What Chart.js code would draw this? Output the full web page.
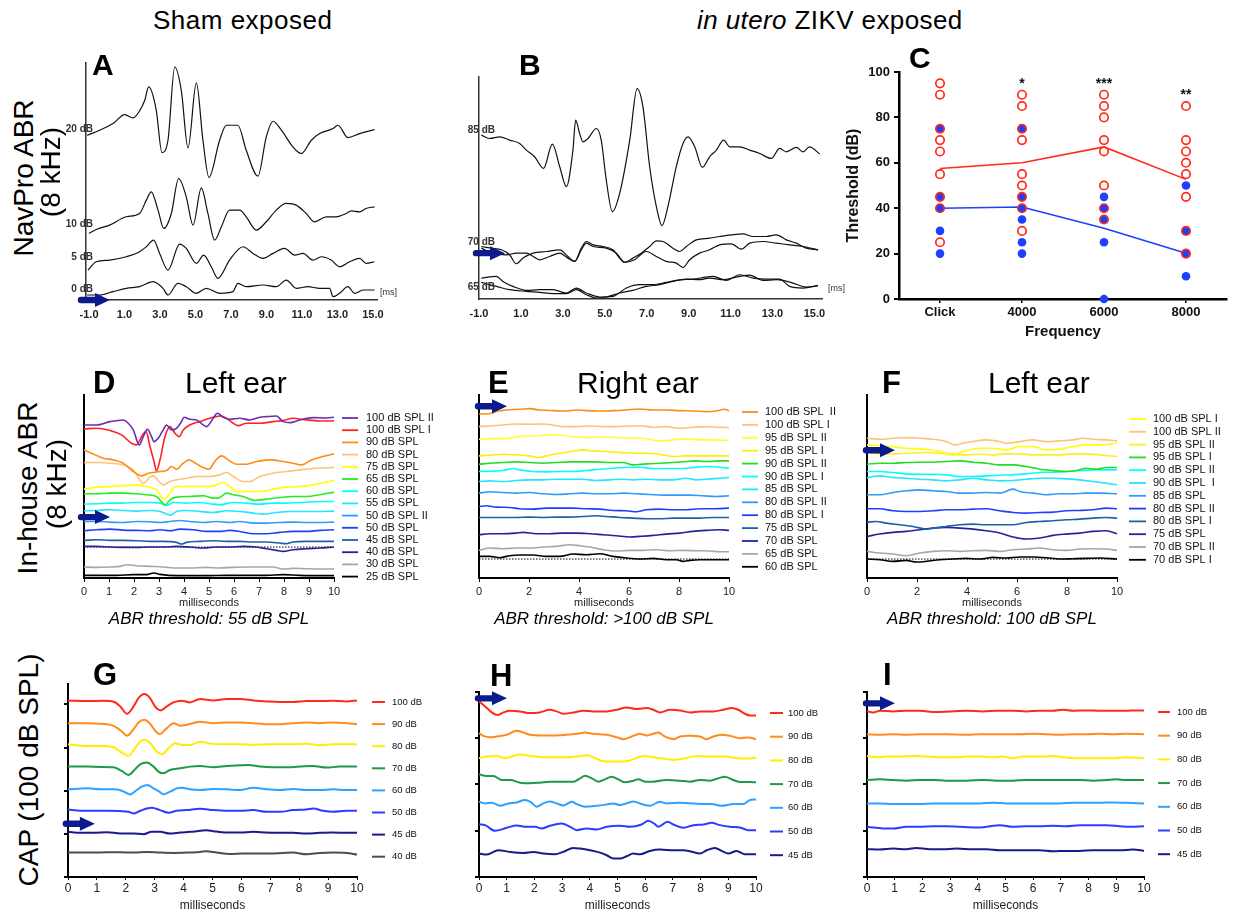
<!DOCTYPE html>
<html>
<head>
<meta charset="utf-8">
<script src="https://cdn.jsdelivr.net/npm/chart.js@4.4.1/dist/chart.umd.min.js"></script>
<style>
  body { margin: 0; background: #fff; width: 1235px; height: 913px; position: relative; overflow: hidden; font-family: "Liberation Sans", Arial, sans-serif; color: #000; }
  canvas { position: absolute; }
  .t { position: absolute; white-space: nowrap; line-height: 1; }
  .b { font-weight: bold; }
  .rot { position: absolute; white-space: nowrap; line-height: 1; text-align: center; transform: rotate(-90deg); }
  .cap { position: absolute; width: 320px; text-align: center; font-style: italic; font-size: 17px; line-height: 1; }
</style>
</head>
<body>
<canvas id="cA" width="340" height="270" style="left:60px;top:55px"></canvas>
<canvas id="cB" width="400" height="259" style="left:455px;top:65px"></canvas>
<canvas id="cC" width="395" height="285" style="left:840px;top:60px"></canvas>
<canvas id="cD" width="380" height="234" style="left:60px;top:380px"></canvas>
<canvas id="cE" width="390" height="234" style="left:455px;top:380px"></canvas>
<canvas id="cF" width="390" height="234" style="left:845px;top:380px"></canvas>
<canvas id="cG" width="390" height="243" style="left:50px;top:670px"></canvas>
<canvas id="cH" width="390" height="243" style="left:455px;top:670px"></canvas>
<canvas id="cI" width="390" height="243" style="left:845px;top:670px"></canvas>

<div class="t" style="left:153px;top:7px;font-size:26px;letter-spacing:.5px">Sham exposed</div>
<div class="t" style="left:697px;top:7px;font-size:26px;letter-spacing:.4px"><i>in utero</i> ZIKV exposed</div>

<div class="t b" style="left:92px;top:50px;font-size:30px">A</div>
<div class="t b" style="left:519px;top:50px;font-size:30px">B</div>
<div class="t b" style="left:909px;top:43px;font-size:30px">C</div>
<div class="t b" style="left:93px;top:367px;font-size:31px">D</div>
<div class="t b" style="left:488px;top:367px;font-size:31px">E</div>
<div class="t b" style="left:882px;top:367px;font-size:31px">F</div>
<div class="t b" style="left:93px;top:659px;font-size:31px">G</div>
<div class="t b" style="left:490px;top:660px;font-size:31px">H</div>
<div class="t b" style="left:883px;top:659px;font-size:31px">I</div>

<div class="t" style="left:185px;top:368px;font-size:30px">Left ear</div>
<div class="t" style="left:577px;top:368px;font-size:30px">Right ear</div>
<div class="t" style="left:988px;top:368px;font-size:30px">Left ear</div>

<div class="cap" style="left:49px;top:610px">ABR threshold: 55 dB SPL</div>
<div class="cap" style="left:444px;top:610px">ABR threshold: &gt;100 dB SPL</div>
<div class="cap" style="left:832px;top:610px">ABR threshold: 100 dB SPL</div>

<div class="rot" style="width:240px;left:-96px;top:164px;font-size:28px">NavPro ABR</div>
<div class="rot" style="width:240px;left:-69px;top:158px;font-size:28px">(8 kHz)</div>
<div class="rot" style="width:240px;left:-92px;top:474px;font-size:28px">In-house ABR</div>
<div class="rot" style="width:240px;left:-63px;top:470px;font-size:28px">(8 kHz)</div>
<div class="rot" style="width:300px;left:-121px;top:756px;font-size:28px">CAP (100 dB SPL)</div>

<script>
// ---- A : NavPro ABR, sham (time ms, amplitude a.u.)
const a20 = [[-1.11,495],[-0.4,510],[0.35,530],[1.01,557],[1.48,547],[1.85,568],[2.14,600],[2.36,640],[2.79,570],[3.11,443],[3.45,480],[3.83,700],[4.2,630],[4.58,457],[5.05,652],[5.42,480],[5.76,368],[6.36,480],[6.74,525],[7.39,525],[7.86,450],[8.52,372],[8.99,490],[9.37,537],[9.84,510],[10.49,460],[10.96,440],[11.53,480],[12.0,500],[12.75,515],[13.03,525],[13.59,488],[14.25,500],[15.09,512]];
const a10 = [[-1,200],[-0.59,212],[0.16,225],[1.1,250],[1.85,260],[2.23,300],[2.51,325],[2.89,270],[3.21,215],[3.64,260],[4.05,365],[4.48,310],[4.86,225],[5.33,337],[5.7,260],[6.08,180],[6.46,220],[6.92,270],[7.49,270],[7.86,250],[8.43,210],[8.99,235],[9.55,270],[10.12,290],[10.68,285],[11.24,260],[11.71,235],[12.37,250],[12.93,250],[13.5,260],[13.78,268],[14.25,265],[14.62,275],[15.09,280]];
const a5 = [[-1.06,90],[-0.59,115],[0.16,120],[1.1,130],[1.85,145],[2.23,160],[2.64,180],[2.98,140],[3.45,90],[4.11,168],[4.48,155],[5.05,110],[5.46,135],[5.89,100],[6.27,65],[6.92,120],[7.68,160],[8.24,140],[8.8,125],[9.37,140],[10.02,155],[10.59,135],[11.06,140],[11.62,120],[12.09,130],[12.65,120],[13.12,100],[13.69,115],[14.25,125],[14.62,110],[15.09,115]];
const a0 = [[-1.11,15],[-0.4,15],[0.35,25],[1.1,35],[1.85,40],[2.61,55],[3.17,35],[3.45,15],[4.01,50],[4.48,40],[5.05,20],[5.61,35],[6.36,20],[7.11,25],[7.39,50],[7.86,40],[8.8,45],[9.55,40],[10.12,60],[10.68,35],[11.34,40],[12.0,35],[12.56,35],[12.75,10],[13.12,20],[13.59,40],[13.97,20],[14.44,30],[15.09,30]];
const tagsA = [['20 dB', 513], ['10 dB', 228], ['5 dB', 129], ['0 dB', 33]];

// ---- B : NavPro ABR, in utero ZIKV
const b85 = [[-0.89,493],[-0.49,483],[-0.01,488],[0.46,478],[0.94,468],[1.26,448],[1.65,428],[2.08,393],[2.5,466],[2.85,398],[3.17,338],[3.48,448],[3.61,538],[3.8,498],[3.96,473],[4.2,483],[4.6,513],[4.83,478],[5.07,358],[5.36,263],[5.71,318],[6.19,478],[6.54,633],[6.82,578],[7.14,398],[7.46,278],[7.73,221],[8.01,278],[8.41,398],[8.73,468],[8.97,488],[9.29,458],[9.65,396],[10.0,428],[10.32,448],[10.67,478],[10.96,458],[11.43,458],[11.91,448],[12.39,438],[12.94,423],[13.34,453],[13.66,443],[14.14,456],[14.45,443],[14.77,458],[15.25,436]];
const b70a = [[-0.89,158],[-0.41,153],[0.07,148],[0.46,133],[0.78,106],[1.1,123],[1.58,138],[2.21,143],[2.85,148],[3.24,128],[3.56,113],[3.88,153],[4.12,173],[4.44,163],[4.91,158],[5.39,148],[5.71,123],[5.95,110],[6.34,123],[6.74,138],[7.14,158],[7.46,175],[7.78,173],[8.25,153],[8.57,143],[8.89,158],[9.37,178],[10.0,183],[10.48,188],[11.04,193],[11.59,196],[12.07,188],[12.7,188],[13.18,193],[13.66,178],[14.14,168],[14.61,153],[15.17,148]];
const b70b = [[-0.89,153],[-0.33,138],[0.3,133],[0.78,138],[1.26,138],[1.58,128],[1.89,118],[2.37,128],[2.85,138],[3.24,123],[3.56,113],[3.88,148],[4.12,168],[4.44,158],[5.07,153],[5.55,138],[5.95,110],[6.42,118],[6.98,143],[7.46,128],[7.93,113],[8.41,108],[8.73,95],[9.05,118],[9.52,138],[10.0,148],[10.48,163],[11.04,166],[11.51,150],[11.91,168],[12.55,173],[13.18,168],[13.82,163],[14.45,158],[15.17,148]];
const b65a = [[-0.89,63],[-0.17,68],[0.14,53],[0.62,38],[1.26,26],[1.89,28],[2.53,28],[3.17,18],[3.64,33],[4.12,18],[4.76,6],[5.39,8],[6.03,33],[6.66,43],[7.3,43],[7.93,50],[8.57,58],[9.21,60],[9.84,66],[10.16,68],[10.8,56],[11.43,73],[12.07,63],[12.7,60],[13.34,60],[13.82,38],[14.45,33],[15.17,40]];
const b65b = [[-0.89,50],[-0.17,38],[0.46,28],[1.26,23],[1.89,20],[2.53,16],[3.17,16],[3.64,28],[4.12,13],[4.6,3],[5.07,6],[5.71,18],[6.34,26],[6.98,38],[7.62,43],[8.25,53],[8.89,60],[9.52,58],[10.0,63],[10.64,58],[11.27,66],[11.91,72],[12.55,56],[13.18,58],[13.5,56],[13.98,48],[14.61,36],[15.17,40]];
const tagsB = [['85 dB', 507], ['70 dB', 171], ['65 dB', 36]];
const abrTicks = [-1, 1, 3, 5, 7, 9, 11, 13, 15];

// ---- C : thresholds (dB)
const catsC = ['Click', '4000', '6000', '8000'];
const shamC = [[75, 45, 40, 30, 20], [75, 45, 40, 35, 25, 20], [45, 40, 35, 25, 0], [50, 30, 20, 10]];
const zikvC = [[95, 90, 75, 70, 65, 55, 45, 40, 25], [90, 85, 75, 70, 55, 50, 45, 40, 30], [90, 85, 80, 70, 65, 50, 40, 35], [85, 70, 65, 60, 55, 45, 30, 20]];
const shamMean = [40, 40.5, 31.2, 20.2];
const zikvMean = [57.5, 60, 67, 52.7];
const starsC = ['', '*', '***', '**'];

// ---- D : in-house ABR, sham, left ear
const d100II = [[0,460],[0.5,460],[1.04,470],[1.57,475],[1.77,465],[1.97,445],[2.21,400],[2.37,425],[2.54,447],[2.7,425],[2.8,410],[2.97,420],[3.17,445],[3.3,460],[3.5,445],[3.7,450],[3.9,470],[4.0,483],[4.23,477],[4.5,475],[4.77,460],[4.9,455],[5.17,480],[5.33,495],[5.57,483],[5.83,477],[6.23,480],[6.63,475],[7.03,483],[7.3,485],[7.7,487],[7.96,470],[8.23,467],[8.63,475],[9.16,482],[9.69,481],[10,483]];
const d100I = [[0,448],[0.5,450],[1.04,443],[1.5,430],[1.9,405],[2.1,400],[2.34,430],[2.48,440],[2.64,395],[2.8,350],[2.9,322],[3.04,355],[3.24,425],[3.44,455],[3.64,435],[3.81,425],[3.97,445],[4.23,460],[4.63,470],[5.03,480],[5.43,487],[5.7,480],[5.97,465],[6.17,458],[6.5,465],[7.03,465],[7.56,470],[7.96,473],[8.36,480],[8.89,475],[9.43,472],[10,472]];
const d90 = [[0,385],[0.37,373],[0.77,360],[1.17,355],[1.57,345],[1.97,320],[2.3,307],[2.57,315],[2.77,317],[3.04,320],[3.3,323],[3.5,335],[3.7,327],[3.97,345],[4.2,355],[4.5,343],[4.77,332],[5.0,327],[5.23,350],[5.5,367],[5.77,355],[6.1,342],[6.5,342],[6.9,350],[7.43,355],[7.96,350],[8.36,345],[8.7,340],[9.1,355],[9.56,365],[10,373]];
const d80 = [[0,347],[0.5,347],[1.04,345],[1.57,340],[1.97,325],[2.37,285],[2.64,303],[2.77,307],[3.0,290],[3.17,280],[3.44,290],[3.7,295],[4.1,300],[4.5,305],[5.03,305],[5.43,310],[5.7,317],[5.97,305],[6.36,290],[6.63,290],[7.03,305],[7.56,315],[8.1,320],[8.63,325],[9.29,330],[10,332]];
const d75 = [[0,267],[0.5,273],[1.04,275],[1.57,277],[2.1,280],[2.5,275],[2.9,265],[3.2,238],[3.44,255],[3.64,275],[4.1,275],[4.63,275],[5.17,277],[5.57,287],[5.83,275],[6.1,260],[6.5,260],[7.03,260],[7.56,267],[8.1,273],[8.63,275],[9.16,280],[10,293]];
const d65 = [[0,253],[0.5,253],[1.04,255],[1.57,255],[2.1,253],[2.5,250],[2.9,245],[3.26,220],[3.44,235],[3.7,243],[4.23,245],[4.77,247],[5.17,240],[5.37,240],[5.7,255],[5.97,250],[6.36,245],[6.83,233],[7.3,237],[7.83,242],[8.36,245],[8.89,245],[9.43,250],[10,258]];
const d60 = [[0,222],[0.5,223],[1.04,225],[1.57,225],[2.1,227],[2.64,227],[3.04,225],[3.3,218],[3.57,227],[4.1,225],[4.63,227],[5.17,222],[5.43,220],[5.97,227],[6.5,225],[7.03,222],[7.56,225],[8.1,225],[8.63,227],[9.29,229],[10,230]];
const d55 = [[0,202],[0.5,203],[1.04,205],[1.57,203],[2.1,201],[2.64,203],[3.04,200],[3.46,189],[3.7,200],[4.1,203],[4.63,200],[5.17,197],[5.7,202],[6.23,200],[6.77,195],[7.17,192],[7.7,197],[8.23,200],[8.76,200],[9.29,200],[10,201]];
const d50II = [[0,170],[0.5,170],[1.04,168],[1.57,167],[2.1,170],[2.64,169],[3.04,167],[3.44,170],[3.84,173],[4.23,170],[4.77,167],[5.3,170],[5.83,167],[6.23,170],[6.77,165],[7.3,165],[7.83,167],[8.36,168],[8.89,167],[9.43,167],[10,168]];
const d50 = [[0,142],[0.5,145],[1.04,147],[1.57,144],[2.1,143],[2.64,142],[3.04,145],[3.44,142],[3.84,147],[4.37,145],[4.9,140],[5.43,140],[5.83,143],[6.23,140],[6.77,133],[7.3,133],[7.83,137],[8.36,140],[8.89,140],[9.43,143],[10,145]];
const d45 = [[0,113],[0.5,115],[1.04,113],[1.57,113],[2.1,112],[2.64,110],[3.17,110],[3.7,107],[3.9,102],[4.1,107],[4.63,110],[5.17,112],[5.7,110],[6.23,110],[6.77,108],[7.3,108],[7.83,105],[8.1,103],[8.36,108],[8.89,110],[9.43,110],[10,110]];
const d40 = [[0,95],[0.5,95],[1.04,93],[1.57,92],[2.1,92],[2.64,93],[3.17,93],[3.7,95],[4.23,93],[4.77,90],[5.3,93],[5.83,93],[6.36,95],[6.9,93],[7.3,88],[7.7,83],[7.96,80],[8.36,85],[8.89,88],[9.43,90],[10,93]];
const d30 = [[0,33],[0.5,32],[1.04,33],[1.44,35],[1.71,40],[2.1,37],[2.64,35],[3.17,33],[3.7,30],[4.23,30],[4.9,32],[5.43,30],[5.97,32],[6.5,33],[7.03,33],[7.56,33],[7.96,27],[8.36,29],[8.89,28],[9.43,27],[10,27]];
const d25 = [[0,8],[0.64,8],[1.3,8],[1.97,10],[2.5,10],[2.8,15],[3.04,11],[3.7,7],[4.1,7],[4.9,7],[5.7,8],[6.5,8],[7.3,8],[7.96,10],[8.63,8],[9.43,7],[10,7]];
const refD = 93;
const legendD = ['100 dB SPL II', '100 dB SPL I', '90 dB SPL', '80 dB SPL', '75 dB SPL', '65 dB SPL', '60 dB SPL', '55 dB SPL', '50 dB SPL II', '50 dB SPL', '45 dB SPL', '40 dB SPL', '30 dB SPL', '25 dB SPL'];

// ---- E : in-house ABR, ZIKV, right ear
const e100II = [[0,493],[0.29,493],[0.49,495],[0.76,502],[1.09,505],[1.63,507],[2.03,509],[2.43,505],[2.96,503],[3.49,502],[3.89,505],[4.29,503],[4.83,502],[5.36,503],[5.89,505],[6.43,508],[6.96,505],[7.49,505],[8.03,503],[8.56,502],[9.09,500],[9.49,502],[9.83,507],[10,502]];
const e100I = [[0,455],[0.43,457],[0.96,460],[1.49,463],[2.03,462],[2.56,463],[2.96,460],[3.36,455],[3.89,455],[4.43,457],[4.96,455],[5.49,455],[6.03,457],[6.56,457],[6.96,453],[7.49,455],[8.03,450],[8.56,453],[9.09,455],[9.63,453],[10,452]];
const e95II = [[0,417],[0.43,419],[0.96,419],[1.49,423],[1.76,427],[2.29,427],[2.83,431],[3.23,429],[3.76,425],[4.29,422],[4.83,423],[5.36,423],[5.89,420],[6.43,420],[6.96,415],[7.23,412],[7.76,415],[8.29,418],[8.83,415],[9.36,415],[10,413]];
const e95I = [[0,367],[0.43,369],[0.96,372],[1.49,370],[2.03,367],[2.43,362],[2.69,367],[3.23,375],[3.76,381],[4.16,385],[4.56,382],[5.09,380],[5.63,377],[6.16,375],[6.69,375],[7.23,372],[7.76,365],[8.29,367],[8.83,367],[9.36,367],[10,367]];
const e90II = [[0,342],[0.43,345],[0.96,347],[1.49,349],[2.03,347],[2.56,345],[3.09,347],[3.63,349],[4.16,349],[4.69,349],[5.23,347],[5.76,347],[6.16,340],[6.69,343],[7.23,345],[7.76,347],[8.29,350],[8.69,352],[9.09,350],[9.63,352],[10,352]];
const e90I = [[0,320],[0.43,321],[0.96,323],[1.36,329],[1.63,325],[2.16,320],[2.69,319],[3.23,320],[3.76,320],[4.29,323],[4.83,327],[5.36,330],[5.89,332],[6.43,333],[6.96,329],[7.49,329],[8.03,329],[8.56,332],[9.09,335],[9.63,333],[10,330]];
const e85 = [[0,290],[0.43,292],[0.96,290],[1.49,293],[2.03,295],[2.56,295],[3.09,297],[3.63,297],[4.16,297],[4.69,293],[5.23,295],[5.76,297],[6.16,295],[6.69,297],[7.23,295],[7.76,295],[8.29,300],[8.69,295],[9.09,297],[9.63,300],[10,302]];
const e80II = [[0,255],[0.43,259],[0.96,257],[1.49,255],[2.03,257],[2.56,253],[3.09,251],[3.63,253],[4.16,255],[4.69,253],[5.23,253],[5.76,255],[6.29,253],[6.83,251],[7.36,249],[7.89,249],[8.43,249],[8.96,247],[9.49,245],[10,247]];
const e80I = [[0,215],[0.29,217],[0.69,213],[1.23,212],[1.63,208],[2.16,207],[2.69,210],[3.23,210],[3.76,210],[4.29,208],[4.83,207],[5.36,203],[5.89,202],[6.29,199],[6.69,205],[7.23,207],[7.76,205],[8.29,205],[8.83,208],[9.36,208],[10,210]];
const e75 = [[0,182],[0.43,182],[0.96,182],[1.49,182],[2.03,183],[2.56,182],[3.09,183],[3.63,183],[4.16,185],[4.69,187],[5.09,185],[5.63,182],[6.16,180],[6.69,178],[7.23,178],[7.76,180],[8.29,180],[8.83,180],[9.36,182],[10,182]];
const e70 = [[0,130],[0.43,133],[0.96,133],[1.49,135],[1.76,137],[2.29,133],[2.83,133],[3.36,135],[3.89,135],[4.43,133],[4.96,130],[5.49,127],[6.03,123],[6.43,125],[6.96,128],[7.49,132],[8.03,135],[8.56,140],[9.09,143],[9.63,145],[10,143]];
const e65 = [[0,83],[0.43,90],[0.96,88],[1.49,90],[2.03,90],[2.56,93],[3.09,95],[3.63,100],[4.03,97],[4.43,93],[4.96,85],[5.49,81],[6.03,83],[6.56,83],[7.09,85],[7.63,82],[8.16,83],[8.69,82],[9.23,81],[9.63,79],[10,79]];
const e60 = [[0,65],[0.43,65],[0.83,61],[1.23,67],[1.63,69],[2.16,69],[2.69,65],[3.23,65],[3.76,72],[4.29,70],[4.83,73],[5.36,65],[5.89,60],[6.43,57],[6.96,59],[7.49,55],[7.89,55],[8.16,50],[8.43,53],[8.83,55],[9.36,55],[10,55]];
const refE = 57;
const legendE = ['100 dB SPL  II', '100 dB SPL I', '95 dB SPL II', '95 dB SPL I', '90 dB SPL II', '90 dB SPL I', '85 dB SPL', '80 dB SPL II', '80 dB SPL I', '75 dB SPL', '70 dB SPL', '65 dB SPL', '60 dB SPL'];

// ---- F : in-house ABR, ZIKV, left ear
const f100I = [[0,400],[0.91,395],[1.57,390],[2.37,387],[2.91,380],[3.44,370],[3.97,383],[4.51,390],[5.04,390],[5.57,385],[6.11,395],[6.64,395],[7.17,385],[7.71,387],[8.24,395],[8.77,400],[9.31,400],[10,405]];
const f100II = [[0,420],[0.51,417],[1.04,420],[1.57,422],[2.11,420],[2.64,417],[3.17,410],[3.51,400],[3.84,405],[4.24,410],[4.77,415],[5.31,410],[5.57,405],[6.11,410],[6.64,415],[7.17,410],[7.71,412],[8.24,415],[8.64,420],[9.04,417],[9.57,415],[10,412]];
const f95II = [[0,377],[0.64,373],[1.17,373],[1.71,375],[2.24,377],[2.91,375],[3.44,373],[3.97,370],[4.51,372],[5.04,370],[5.57,373],[6.11,373],[6.64,370],[7.17,370],[7.71,370],[8.24,373],[8.77,373],[9.31,370],[10,365]];
const f95I = [[0,342],[0.51,345],[1.04,345],[1.57,347],[2.11,348],[2.64,348],[3.17,350],[3.71,352],[4.24,348],[4.77,345],[5.31,340],[5.84,340],[6.37,335],[6.91,327],[7.44,323],[7.97,320],[8.37,323],[8.77,330],[9.17,327],[9.57,332],[10,332]];
const f90II = [[0,320],[0.51,320],[1.04,317],[1.57,313],[2.11,312],[2.64,312],[3.17,310],[3.71,305],[4.24,305],[4.77,307],[5.31,309],[5.84,310],[6.37,313],[6.91,317],[7.44,318],[7.97,320],[8.51,323],[9.04,325],[9.57,325],[10,325]];
const f90I = [[0,300],[0.24,305],[0.51,307],[1.04,302],[1.57,300],[2.11,297],[2.64,295],[3.17,292],[3.71,295],[4.24,300],[4.77,295],[5.31,292],[5.84,293],[6.37,297],[6.91,300],[7.44,300],[7.97,298],[8.51,295],[9.04,290],[9.57,285],[10,280]];
const f85 = [[0,250],[0.51,250],[1.04,257],[1.57,262],[2.11,265],[2.64,262],[3.17,260],[3.71,255],[4.24,255],[4.77,257],[5.31,255],[5.84,267],[6.11,260],[6.64,255],[7.17,250],[7.71,253],[8.24,253],[8.77,255],[9.31,255],[10,253]];
const f80II = [[0,208],[0.51,208],[1.04,202],[1.57,200],[2.11,200],[2.64,202],[3.17,205],[3.71,205],[4.24,207],[4.77,208],[5.31,202],[5.84,197],[6.37,195],[6.91,197],[7.44,198],[7.97,202],[8.51,203],[9.04,205],[9.57,210],[10,208]];
const f80I = [[0,168],[0.37,170],[0.77,165],[1.31,160],[1.84,155],[2.37,147],[2.64,150],[3.17,155],[3.71,160],[4.24,162],[4.77,160],[5.31,160],[5.84,160],[6.37,167],[6.91,170],[7.44,172],[7.97,175],[8.51,177],[9.04,180],[9.57,182],[10,180]];
const f75 = [[0,125],[0.51,132],[1.04,137],[1.57,140],[2.11,145],[2.64,150],[3.17,152],[3.71,150],[4.24,147],[4.77,142],[5.31,135],[5.84,123],[6.37,117],[6.91,120],[7.44,128],[7.97,132],[8.51,135],[9.04,140],[9.57,142],[10,133]];
const f70II = [[0,80],[0.51,75],[1.04,72],[1.57,67],[2.11,75],[2.64,80],[3.17,82],[3.71,80],[4.24,82],[4.77,83],[5.31,80],[5.84,85],[6.37,87],[6.91,90],[7.44,85],[7.97,83],[8.51,87],[9.04,88],[9.57,87],[10,83]];
const f70I = [[0,57],[0.51,55],[1.04,50],[1.57,53],[1.97,48],[2.37,50],[2.91,55],[3.44,57],[3.97,59],[4.51,57],[5.04,62],[5.57,60],[6.11,63],[6.64,63],[7.17,61],[7.71,57],[8.24,58],[8.77,59],[9.31,60],[10,57]];
const refF = 57;
const legendF = ['100 dB SPL I', '100 dB SPL II', '95 dB SPL II', '95 dB SPL I', '90 dB SPL II', '90 dB SPL  I', '85 dB SPL', '80 dB SPL II', '80 dB SPL I', '75 dB SPL', '70 dB SPL II', '70 dB SPL I'];

// ---- G : CAP, sham
const g100 = [[0,527],[0.66,526],[1.23,527],[1.58,524],[1.81,510],[2.04,488],[2.27,510],[2.44,535],[2.64,547],[2.84,535],[3.01,510],[3.21,498],[3.42,510],[3.65,522],[3.94,527],[4.22,522],[4.57,532],[5.03,528],[5.49,532],[5.95,532],[6.41,528],[6.87,525],[7.33,523],[7.79,523],[8.25,526],[8.71,526],[9.17,527],[9.63,525],[10,528]];
const g90 = [[0,460],[0.66,460],[1.12,458],[1.58,452],[1.86,435],[2.04,422],[2.27,442],[2.44,462],[2.64,470],[2.84,458],[3.01,438],[3.16,427],[3.42,445],[3.65,460],[3.88,452],[4.11,455],[4.57,464],[5.03,460],[5.49,462],[5.95,462],[6.41,460],[6.87,457],[7.33,457],[7.79,460],[8.25,462],[8.71,460],[9.17,462],[9.63,460],[10,457]];
const g80 = [[0,397],[0.66,392],[1.12,392],[1.58,388],[1.86,372],[2.09,362],[2.32,385],[2.5,405],[2.67,410],[2.9,395],[3.07,375],[3.25,367],[3.48,385],[3.71,400],[3.94,395],[4.22,395],[4.57,404],[5.03,398],[5.49,397],[5.95,397],[6.41,395],[6.87,397],[7.33,397],[7.79,397],[8.25,398],[8.71,394],[9.17,397],[9.63,397],[10,397]];
const g70 = [[0,330],[0.66,330],[1.12,329],[1.58,328],[1.86,317],[2.09,305],[2.32,322],[2.5,337],[2.73,342],[2.96,330],[3.13,315],[3.28,310],[3.53,320],[3.88,325],[4.22,330],[4.57,332],[5.03,328],[5.49,332],[5.95,334],[6.24,335],[6.64,330],[7.1,328],[7.56,328],[8.02,330],[8.48,332],[8.94,327],[9.4,330],[10,330]];
const g60 = [[0,262],[0.66,265],[1.12,262],[1.58,262],[1.86,258],[2.15,247],[2.38,260],[2.55,270],[2.75,275],[2.96,265],[3.16,255],[3.3,247],[3.53,255],[3.76,265],[3.94,267],[4.22,262],[4.57,260],[5.03,263],[5.49,262],[5.95,260],[6.41,267],[6.87,262],[7.33,260],[7.79,263],[8.25,260],[8.71,260],[9.17,262],[9.63,260],[10,260]];
const g50 = [[0,202],[0.43,198],[0.89,198],[1.35,198],[1.81,197],[2.09,195],[2.29,190],[2.5,198],[2.9,207],[3.19,200],[3.48,192],[3.76,198],[4.11,200],[4.57,204],[5.03,200],[5.49,198],[5.95,198],[6.41,200],[6.87,195],[7.33,195],[7.79,200],[8.25,202],[8.48,205],[8.83,198],[9.17,195],[9.63,198],[10,198]];
const g45 = [[0,135],[0.43,132],[0.89,132],[1.35,134],[1.81,130],[2.27,130],[2.61,128],[2.9,135],[3.19,135],[3.53,130],[3.88,133],[4.22,135],[4.57,138],[4.8,140],[5.03,137],[5.49,133],[5.95,133],[6.41,135],[6.87,133],[7.33,132],[7.79,132],[8.25,130],[8.71,132],[9.17,133],[9.63,132],[10,132]];
const g40 = [[0,73],[0.43,73],[0.89,73],[1.35,74],[1.81,74],[2.27,73],[2.73,75],[3.19,73],[3.65,72],[4.11,73],[4.57,75],[4.8,77],[5.14,73],[5.6,69],[6.06,70],[6.52,70],[6.98,70],[7.45,72],[7.79,73],[8.25,68],[8.71,72],[9.17,73],[9.63,72],[10,67]];
const capTicksG = [0, 129, 258, 387, 516];
const levelsG = ['100 dB', '90 dB', '80 dB', '70 dB', '60 dB', '50 dB', '45 dB', '40 dB'];

// ---- H : CAP, ZIKV
const h100 = [[0,525],[0.22,510],[0.46,492],[0.66,484],[0.88,492],[1.12,497],[1.48,495],[1.84,490],[2.2,492],[2.56,500],[2.8,495],[3.04,488],[3.41,492],[3.77,497],[4.13,495],[4.61,495],[4.97,500],[5.33,507],[5.69,502],[6.05,505],[6.29,500],[6.53,492],[6.9,500],[7.26,498],[7.62,492],[7.98,495],[8.46,495],[8.82,500],[9.12,505],[9.36,500],[9.6,488],[9.78,483],[10,483]];
const h90 = [[0,430],[0.16,422],[0.4,418],[0.64,420],[1.0,425],[1.36,437],[1.6,432],[1.84,425],[2.32,423],[2.8,423],[3.16,425],[3.53,428],[3.83,432],[4.13,428],[4.61,425],[4.97,418],[5.21,412],[5.51,420],[5.81,428],[6.05,423],[6.29,428],[6.47,432],[6.71,420],[7.02,412],[7.26,420],[7.62,422],[7.98,420],[8.22,412],[8.46,420],[8.76,425],[9.06,422],[9.42,415],[9.72,417],[10,412]];
const h80 = [[0,355],[0.28,360],[0.64,362],[0.94,355],[1.18,360],[1.48,366],[1.84,362],[2.32,358],[2.8,358],[3.16,358],[3.53,360],[3.89,364],[4.13,358],[4.43,347],[4.85,345],[5.21,345],[5.45,348],[5.75,358],[5.99,362],[6.29,358],[6.65,354],[7.02,350],[7.38,354],[7.86,362],[8.22,360],[8.58,360],[8.94,360],[9.3,355],[9.66,354],[10,357]];
const h70 = [[0,307],[0.28,302],[0.52,302],[0.82,290],[1.12,290],[1.48,282],[1.84,280],[2.2,282],[2.56,285],[2.92,285],[3.41,285],[3.65,295],[3.83,303],[4.07,295],[4.31,285],[4.55,292],[4.79,300],[5.03,292],[5.27,283],[5.57,288],[5.75,292],[5.99,285],[6.29,285],[6.77,290],[7.26,288],[7.62,285],[7.98,290],[8.34,288],[8.64,295],[8.88,300],[9.12,292],[9.42,284],[9.78,284],[10,283]];
const h60 = [[0,225],[0.22,220],[0.46,222],[0.76,213],[1.06,220],[1.36,223],[1.66,230],[1.88,223],[2.08,210],[2.32,220],[2.56,226],[2.8,220],[3.04,214],[3.35,225],[3.53,218],[3.83,210],[4.25,213],[4.61,217],[4.85,220],[5.09,215],[5.33,220],[5.57,226],[5.87,218],[6.17,213],[6.53,225],[6.77,220],[7.26,222],[7.74,220],[8.1,218],[8.4,218],[8.76,213],[9.18,218],[9.54,218],[9.78,230],[10,232]];
const h50 = [[0,158],[0.22,155],[0.58,138],[1.0,147],[1.36,154],[1.72,150],[2.02,150],[2.26,145],[2.56,153],[2.98,160],[3.29,150],[3.53,140],[3.89,145],[4.25,142],[4.61,150],[5.09,153],[5.45,150],[5.87,157],[6.11,168],[6.35,158],[6.47,150],[6.81,165],[7.02,157],[7.38,147],[7.74,155],[8.1,157],[8.4,162],[8.7,155],[9.06,150],[9.42,148],[9.72,140],[10,140]];
const h45 = [[0,70],[0.28,67],[0.7,80],[1.12,75],[1.6,72],[1.96,75],[2.32,70],[2.74,68],[3.04,75],[3.41,87],[3.65,85],[4.01,80],[4.37,73],[4.61,65],[4.85,55],[5.09,55],[5.33,62],[5.57,70],[5.81,68],[6.17,78],[6.53,82],[7.02,80],[7.38,80],[7.62,77],[7.98,70],[8.22,80],[8.52,87],[8.76,78],[9.0,70],[9.3,78],[9.6,68],[10,68]];

// ---- I : CAP, ZIKV
const i100 = [[0,495],[0.22,492],[0.46,497],[0.94,495],[1.42,497],[1.9,497],[2.5,493],[2.98,495],[3.59,497],[4.19,495],[4.67,497],[5.27,497],[5.75,495],[6.23,497],[6.71,497],[7.08,500],[7.44,497],[7.92,498],[8.4,497],[8.88,497],[9.36,497],[9.72,498],[10,498]];
const i90 = [[0,427],[0.46,425],[0.94,427],[1.42,425],[1.9,427],[2.38,427],[2.86,427],[3.59,425],[4.07,427],[4.55,427],[5.03,427],[5.51,427],[5.99,428],[6.47,427],[6.96,425],[7.44,427],[7.92,427],[8.4,428],[8.88,427],[9.36,428],[10,427]];
const i80 = [[0,362],[0.34,358],[0.7,360],[1.18,360],[1.66,362],[2.14,360],[2.62,358],[3.1,358],[3.59,360],[4.07,360],[4.55,358],[4.91,360],[5.27,355],[5.63,360],[6.11,360],[6.47,360],[6.71,362],[7.08,358],[7.44,355],[7.92,355],[8.4,355],[8.88,355],[9.36,358],[10,355]];
const i70 = [[0,290],[0.46,292],[0.94,290],[1.42,288],[1.9,290],[2.38,290],[2.86,288],[3.59,288],[4.19,290],[4.67,288],[5.27,288],[5.75,290],[6.23,290],[6.71,290],[7.2,290],[7.68,290],[8.16,288],[8.64,290],[9.0,292],[9.36,290],[10,290]];
const i60 = [[0,220],[0.46,220],[0.94,218],[1.42,218],[1.9,218],[2.38,220],[2.86,220],[3.35,220],[4.07,220],[4.55,222],[5.03,220],[5.51,220],[5.99,220],[6.47,220],[6.96,220],[7.44,222],[7.92,222],[8.4,222],[8.88,223],[9.36,222],[10,220]];
const i50 = [[0,150],[0.34,147],[0.58,145],[0.94,145],[1.42,150],[1.9,150],[2.38,152],[2.86,152],[3.35,150],[3.95,148],[4.31,150],[4.79,155],[5.27,150],[5.75,152],[6.23,152],[6.71,153],[7.2,152],[7.68,155],[8.16,155],[8.64,155],[9.12,152],[9.48,150],[10,152]];
const i45 = [[0,83],[0.46,82],[0.94,85],[1.42,83],[1.78,87],[2.26,83],[2.74,83],[3.23,85],[3.83,83],[4.31,83],[4.79,80],[5.27,80],[5.75,80],[6.23,80],[6.71,77],[7.2,78],[7.68,78],[8.16,80],[8.64,80],[9.12,80],[9.6,82],[10,78]];
const capTicksHI = [0, 138, 277, 415, 553];
const levelsHI = ['100 dB', '90 dB', '80 dB', '70 dB', '60 dB', '50 dB', '45 dB'];

// colours
const colD = ['#6a2fb0', '#ff2222', '#ff8c1a', '#ffc27a', '#ffff00', '#22ee22', '#00ffff', '#22e5ff', '#2e9bff', '#1f3fff', '#1f5fa6', '#22229a', '#a6a6a6', '#000000'];
const colE = ['#ff8c1a', '#ffc27a', '#ffff33', '#ffee00', '#22dd22', '#00ffff', '#22e5ff', '#2e9bff', '#1f3fff', '#1f5fa6', '#22229a', '#a6a6a6', '#000000'];
const colF = ['#ffff00', '#ffc27a', '#ffee22', '#22dd22', '#00ffff', '#22e5ff', '#2e9bff', '#1f3fff', '#1f5fa6', '#22229a', '#a6a6a6', '#000000'];
const colCap = ['#ff2a1a', '#ff8c1a', '#ffee00', '#1e9a46', '#2ea0ff', '#2a3cff', '#1a1a8c', '#4d4d4d'];
const ARROW = '#0b1a8c';
const FONT = '"Liberation Sans", Arial, sans-serif';

Chart.defaults.font.family = FONT;
Chart.defaults.color = '#222';

function drawArrow(ctx, x, y) {
  ctx.fillStyle = ARROW;
  ctx.beginPath();
  ctx.moveTo(x, y);
  ctx.lineTo(x - 15, y - 7);
  ctx.lineTo(x - 15, y - 3.2);
  ctx.lineTo(x - 29, y - 3.2);
  ctx.arc(x - 29, y, 3.2, -Math.PI / 2, Math.PI / 2, true);
  ctx.lineTo(x - 15, y + 3.2);
  ctx.lineTo(x - 15, y + 7);
  ctx.closePath();
  ctx.fill();
}

// extra marks: arrow, trace tags, legends
function decor(cfg) {
  return {
    id: 'decor',
    afterDatasetsDraw(chart) {
      const ctx = chart.ctx, xs = chart.scales.x, ys = chart.scales.y, a = chart.chartArea;
      ctx.save();
      if (cfg.tags) {
        ctx.font = 'bold 10px ' + FONT;
        ctx.fillStyle = '#333';
        ctx.textAlign = 'right';
        ctx.textBaseline = 'middle';
        cfg.tags.forEach(([t, v]) => ctx.fillText(t, a.left + cfg.tagX, ys.getPixelForValue(v)));
      }
      if (cfg.ms != null) {
        ctx.font = '9px ' + FONT;
        ctx.fillStyle = '#333';
        ctx.textAlign = 'left';
        ctx.textBaseline = 'middle';
        ctx.fillText('[ms]', a.right + cfg.msX, ys.getPixelForValue(cfg.ms));
      }
      if (cfg.legend) {
        const L = cfg.legend;
        ctx.font = L.font + 'px ' + FONT;
        ctx.textAlign = 'left';
        ctx.textBaseline = 'middle';
        L.items.forEach((t, i) => {
          const y = a.top + L.dy0 + i * L.step;
          ctx.strokeStyle = L.colors[i];
          ctx.lineWidth = L.lw || 1.8;
          ctx.beginPath();
          ctx.moveTo(a.right + L.sx, y);
          ctx.lineTo(a.right + L.sx + L.sw, y);
          ctx.stroke();
          ctx.fillStyle = '#111';
          ctx.fillText(t, a.right + L.tx, y);
        });
      }
      if (cfg.arrow) drawArrow(ctx, xs.getPixelForValue(cfg.arrow[0]), ys.getPixelForValue(cfg.arrow[1]));
      ctx.restore();
    }
  };
}

function wave(id, o) {
  const sets = o.series.map((d, i) => ({
    data: d,
    borderColor: o.colors[i],
    borderWidth: o.lw,
    pointRadius: 0,
    cubicInterpolationMode: 'monotone',
    fill: false,
    clip: false
  }));
  if (o.ref != null) {
    sets.push({ data: [[o.x[0], o.ref], [o.x[1], o.ref]], borderColor: '#000', borderWidth: 1, borderDash: [1.5, 1.5], pointRadius: 0 });
  }
  const yAxis = {
    type: 'linear', min: o.y[0], max: o.y[1],
    ticks: { display: false },
    grid: { display: false },
    border: { display: true, color: o.axisColor, width: o.axisW },
    afterFit: s => { s.width = o.yw; }
  };
  if (o.yTicks) {
    yAxis.afterBuildTicks = s => { s.ticks = o.yTicks.map(v => ({ value: v })); };
    yAxis.grid = { display: true, drawOnChartArea: false, drawTicks: true, tickLength: 4, color: '#000', lineWidth: 2 };
  }
  const xAxis = {
    type: 'linear', min: o.x[0], max: o.x[1],
    border: { display: true, color: o.axisColor, width: o.axisW },
    ticks: { autoSkip: false, maxRotation: 0, font: o.tickFont, color: '#222', padding: o.tickPad },
    grid: o.xTickLen ? { display: true, drawOnChartArea: false, drawTicks: true, tickLength: o.xTickLen, color: '#000', lineWidth: 1 } : { display: false, drawTicks: false },
    afterFit: s => { s.height = o.xh; }
  };
  if (o.xList) {
    xAxis.afterBuildTicks = s => { s.ticks = o.xList.map(v => ({ value: v })); };
    xAxis.ticks.callback = v => v.toFixed(1);
  } else {
    xAxis.ticks.stepSize = o.step;
  }
  if (o.xTitle) {
    xAxis.title = { display: true, text: 'milliseconds', font: o.xTitle, color: '#222', padding: { top: 0, bottom: o.titlePad } };
  }
  new Chart(document.getElementById(id), {
    type: 'line',
    data: { datasets: sets },
    options: {
      animation: false, responsive: false, devicePixelRatio: 1,
      layout: { autoPadding: false, padding: { left: 0, top: o.pad[0], right: o.pad[1], bottom: 0 } },
      plugins: { legend: { display: false }, tooltip: { enabled: false } },
      scales: { x: xAxis, y: yAxis }
    },
    plugins: [decor(o.decor)]
  });
}

// A
wave('cA', {
  series: [a20, a10, a5, a0], colors: ['#111', '#111', '#111', '#111'], lw: 1.2,
  x: [-1.17, 15.23], y: [0, 712], xList: abrTicks, yw: 26, xh: 25, pad: [8, 23],
  axisColor: '#333', axisW: 1.5, tickFont: { size: 11, weight: 'bold' }, tickPad: 8,
  decor: { tags: tagsA, tagX: 7, ms: 21, msX: 3, arrow: [0.18, 0] }
});
// B
wave('cB', {
  series: [b85, b70a, b70b, b65a, b65b], colors: ['#111', '#111', '#111', '#111', '#111'], lw: 1.2,
  x: [-1, 15.36], y: [0, 668], xList: abrTicks, yw: 24, xh: 25, pad: [12, 33],
  axisColor: '#333', axisW: 1.5, tickFont: { size: 11, weight: 'bold' }, tickPad: 8,
  decor: { tags: tagsB, tagX: 16, ms: 33, msX: 6, arrow: [0.24, 138] }
});

// D, E, F
const abrStyle = { x: [0, 10], y: [0, 550], lw: 1.6, xh: 36, axisColor: '#000', axisW: 2, tickFont: { size: 11 }, tickPad: 3, xTickLen: 4, xTitle: { size: 11 }, titlePad: 4 };
wave('cD', Object.assign({}, abrStyle, {
  series: [d100II, d100I, d90, d80, d75, d65, d60, d55, d50II, d50, d45, d40, d30, d25], colors: colD, ref: refD,
  step: 1, yw: 24, pad: [15, 106],
  decor: { arrow: [1.04, 183], legend: { items: legendD, colors: colD, dy0: 23, step: 12.2, sx: 8, sw: 16, tx: 32, font: 11 } }
}));
wave('cE', Object.assign({}, abrStyle, {
  series: [e100II, e100I, e95II, e95I, e90II, e90I, e85, e80II, e80I, e75, e70, e65, e60], colors: colE, ref: refE,
  step: 2, yw: 24, pad: [15, 116],
  decor: { arrow: [1.12, 516], legend: { items: legendE, colors: colE, dy0: 17, step: 12.9, sx: 13, sw: 16, tx: 36, font: 11 } }
}));
wave('cF', Object.assign({}, abrStyle, {
  series: [f100I, f100II, f95II, f95I, f90II, f90I, f85, f80II, f80I, f75, f70II, f70I], colors: colF, ref: refF,
  step: 2, yw: 22, pad: [15, 118],
  decor: { arrow: [1.12, 384], legend: { items: legendF, colors: colF, dy0: 24, step: 12.8, sx: 12, sw: 17, tx: 36, font: 11 } }
}));

// G, H, I
const capStyle = { x: [0, 10], lw: 2, step: 1, xh: 36, axisColor: '#000', axisW: 2, tickFont: { size: 12 }, tickPad: 1, xTickLen: 3, xTitle: { size: 12 }, titlePad: 0 };
wave('cG', Object.assign({}, capStyle, {
  series: [g100, g90, g80, g70, g60, g50, g45, g40], colors: colCap, y: [0, 577], yTicks: capTicksG, yw: 18, pad: [14, 83],
  decor: { arrow: [0.93, 159], legend: { items: levelsG, colors: colCap, dy0: 18, step: 22.1, sx: 15, sw: 13, tx: 35, font: 9.5, lw: 2 } }
}));
wave('cH', Object.assign({}, capStyle, {
  series: [h100, h90, h80, h70, h60, h50, h45], colors: colCap, y: [0, 553], yTicks: capTicksHI, yw: 24, pad: [22, 89],
  decor: { arrow: [1.01, 534], legend: { items: levelsHI, colors: colCap, dy0: 21, step: 23.7, sx: 14, sw: 13, tx: 32, font: 9.5, lw: 2 } }
}));
wave('cI', Object.assign({}, capStyle, {
  series: [i100, i90, i80, i70, i60, i50, i45], colors: colCap, y: [0, 553], yTicks: capTicksHI, yw: 22, pad: [22, 91],
  decor: { arrow: [1.01, 519], legend: { items: levelsHI, colors: colCap, dy0: 20, step: 23.7, sx: 14, sw: 12, tx: 33, font: 9.5, lw: 2 } }
}));

// C : threshold scatter
const ptsZ = zikvC.flatMap((vals, i) => vals.map(v => ({ x: i, y: v })));
const ptsS = shamC.flatMap((vals, i) => vals.map(v => ({ x: i, y: v })));
const starPlugin = {
  id: 'stars',
  afterDatasetsDraw(chart) {
    const ctx = chart.ctx, xs = chart.scales.x, ys = chart.scales.y;
    ctx.save();
    ctx.font = 'bold 14px ' + FONT;
    ctx.fillStyle = '#111';
    ctx.textAlign = 'center';
    ctx.textBaseline = 'alphabetic';
    starsC.forEach((s, i) => {
      if (!s) return;
      const top = Math.max(...zikvC[i]) + 6.5;
      ctx.fillText(s, xs.getPixelForValue(i), ys.getPixelForValue(top) + 8);
    });
    ctx.restore();
  }
};
new Chart(document.getElementById('cC'), {
  type: 'scatter',
  data: {
    datasets: [
      { data: ptsZ, pointRadius: 4.2, pointBackgroundColor: 'rgba(0,0,0,0)', pointBorderColor: '#ff2a1a', pointBorderWidth: 1.7, clip: false },
      { data: ptsS, pointRadius: 4.3, pointBackgroundColor: '#1f3fff', pointBorderWidth: 0, clip: false },
      { data: zikvMean.map((v, i) => ({ x: i, y: v })), showLine: true, borderColor: '#ff2a1a', borderWidth: 1.6, pointRadius: 0, clip: false },
      { data: shamMean.map((v, i) => ({ x: i, y: v })), showLine: true, borderColor: '#1f3fff', borderWidth: 1.6, pointRadius: 0, clip: false }
    ]
  },
  options: {
    animation: false, responsive: false, devicePixelRatio: 1,
    layout: { autoPadding: false, padding: { left: 0, top: 12, right: 8, bottom: 0 } },
    plugins: { legend: { display: false }, tooltip: { enabled: false } },
    scales: {
      x: {
        type: 'linear', min: -0.5, max: 3.5,
        afterBuildTicks: s => { s.ticks = catsC.map((c, i) => ({ value: i })); },
        ticks: { callback: v => catsC[v], font: { size: 13, weight: 'bold' }, color: '#111', padding: 2, maxRotation: 0, autoSkip: false },
        grid: { display: true, drawOnChartArea: false, drawTicks: true, tickLength: 4, color: '#000', lineWidth: 1.5 },
        border: { display: true, color: '#000', width: 2.5 },
        title: { display: true, text: 'Frequency', font: { size: 15, weight: 'bold' }, color: '#111', padding: { top: 0, bottom: 4 } },
        afterFit: s => { s.height = 46; }
      },
      y: {
        type: 'linear', min: 0, max: 100,
        ticks: { stepSize: 20, font: { size: 13, weight: 'bold' }, color: '#111', padding: 4 },
        grid: { display: true, drawOnChartArea: false, drawTicks: true, tickLength: 5, color: '#000', lineWidth: 2 },
        border: { display: true, color: '#000', width: 2.5 },
        title: { display: true, text: 'Threshold (dB)', font: { size: 16, weight: 'bold' }, color: '#111', padding: { top: 4, bottom: 0 } },
        afterFit: s => { s.width = 59; }
      }
    }
  },
  plugins: [starPlugin]
});
</script>
</body>
</html>
